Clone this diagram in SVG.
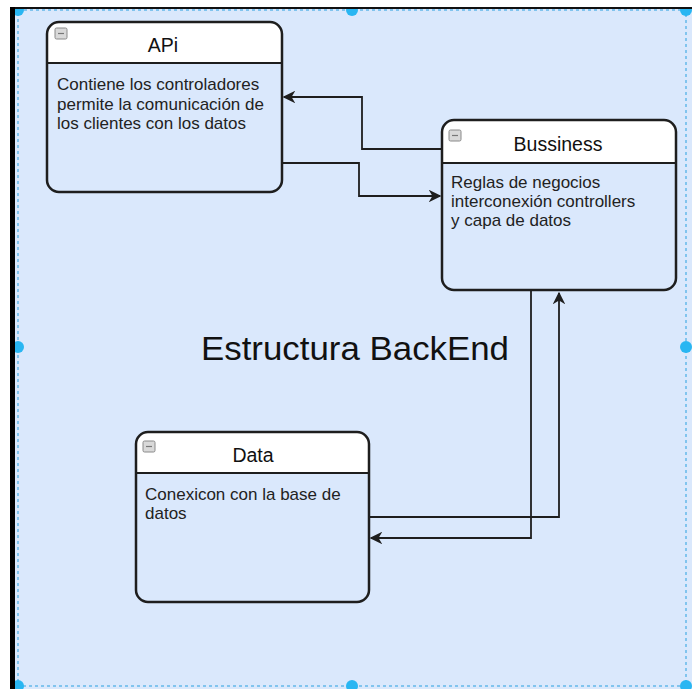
<svg xmlns="http://www.w3.org/2000/svg" width="692" height="689" viewBox="0 0 692 689">
  <style>
    .box { fill: none; stroke: #1e1e1e; stroke-width: 2.5; }
    .head { fill: #ffffff; }
    .sep { stroke: #1e1e1e; stroke-width: 2; }
    .title { font-family: "Liberation Sans", Arial, sans-serif; font-size: 19.5px; fill: #111; text-anchor: middle; }
    .body { font-family: "Liberation Sans", Arial, sans-serif; font-size: 17px; fill: #222; }
    .icon { fill: #d9d9d9; stroke: #8a8a8a; stroke-width: 1; }
    .icon-dash { stroke: #777; stroke-width: 1.2; }
    .edge { fill: none; stroke: #1e1e1e; stroke-width: 1.8; }
    .handle { fill: #29b6f2; }
  </style>
  <defs>
    <marker id="arrow" viewBox="0 0 10 10" refX="9" refY="5" markerWidth="7" markerHeight="7" markerUnits="strokeWidth" orient="auto">
      <path d="M0,0 L10,5 L0,10 L3,5 Z" fill="#1e1e1e"/>
    </marker>
    <g id="collapse">
      <rect x="0" y="0" width="12" height="11" rx="1.5" class="icon"/>
      <line x1="3" y1="5.5" x2="9" y2="5.5" class="icon-dash"/>
    </g>
  </defs>

  <!-- page -->
  <rect x="0" y="0" width="692" height="689" fill="#ffffff"/>
  <rect x="10" y="9" width="682" height="680" fill="#dae8fc"/>

  <!-- container selection frame -->
  <rect x="18" y="10" width="668" height="676" fill="none" stroke="#29a0e0" stroke-width="1" stroke-dasharray="3 3"/>
  <g id="handles">
    <circle class="handle" cx="18" cy="10" r="6"/>
    <circle class="handle" cx="352" cy="10" r="6"/>
    <circle class="handle" cx="686" cy="10" r="6"/>
    <circle class="handle" cx="18" cy="347" r="6"/>
    <circle class="handle" cx="686" cy="347" r="6"/>
    <circle class="handle" cx="18" cy="686" r="6"/>
    <circle class="handle" cx="352" cy="686" r="6"/>
    <circle class="handle" cx="686" cy="686" r="6"/>
  </g>
  <!-- window edges -->
  <rect x="10" y="0" width="682" height="7" fill="#ffffff"/>
  <rect x="10" y="7" width="5" height="682" fill="#000"/>
  <rect x="15" y="7" width="677" height="2" fill="#111"/>

  <text x="355" y="360" font-family="'Liberation Sans', Arial, sans-serif" font-size="34" fill="#111" text-anchor="middle" textLength="308" lengthAdjust="spacingAndGlyphs">Estructura BackEnd</text>

  <!-- connectors -->
  <g id="connectors">
    <path class="edge" d="M442,149 H362 V97 H284" marker-end="url(#arrow)"/>
    <path class="edge" d="M282,163 H359 V196 H440" marker-end="url(#arrow)"/>
    <path class="edge" d="M531,291 V538 H371" marker-end="url(#arrow)"/>
    <path class="edge" d="M369,517 H559 V293" marker-end="url(#arrow)"/>
  </g>

  <!-- API -->
  <g id="api">
    <path class="head" d="M47,63 V34 Q47,22 59,22 H270 Q282,22 282,34 V63 Z"/>
    <line class="sep" x1="47" y1="63" x2="282" y2="63"/>
    <rect class="box" x="47" y="22" width="235" height="170" rx="12"/>
    <use href="#collapse" x="55" y="28"/>
    <text class="title" x="163" y="52">APi</text>
    <text class="body" x="57" y="90">Contiene los controladores</text>
    <text class="body" x="57" y="110">permite la comunicación de</text>
    <text class="body" x="57" y="129">los clientes con los datos</text>
  </g>

  <!-- Bussiness -->
  <g id="bussiness">
    <path class="head" d="M442,163 V132 Q442,120 454,120 H664 Q676,120 676,132 V163 Z"/>
    <line class="sep" x1="442" y1="163" x2="676" y2="163"/>
    <rect class="box" x="442" y="120" width="234" height="170" rx="12"/>
    <use href="#collapse" x="449" y="130"/>
    <text class="title" x="558" y="151">Bussiness</text>
    <text class="body" x="451" y="188">Reglas de negocios</text>
    <text class="body" x="451" y="207">interconexión controllers</text>
    <text class="body" x="451" y="226">y capa de datos</text>
  </g>

  <!-- Data -->
  <g id="data">
    <path class="head" d="M136,473 V444 Q136,432 148,432 H357 Q369,432 369,444 V473 Z"/>
    <line class="sep" x1="136" y1="473" x2="369" y2="473"/>
    <rect class="box" x="136" y="432" width="233" height="170" rx="12"/>
    <use href="#collapse" x="143" y="441"/>
    <text class="title" x="253" y="462">Data</text>
    <text class="body" x="145" y="500">Conexicon con la base de</text>
    <text class="body" x="145" y="519">datos</text>
  </g>
</svg>
